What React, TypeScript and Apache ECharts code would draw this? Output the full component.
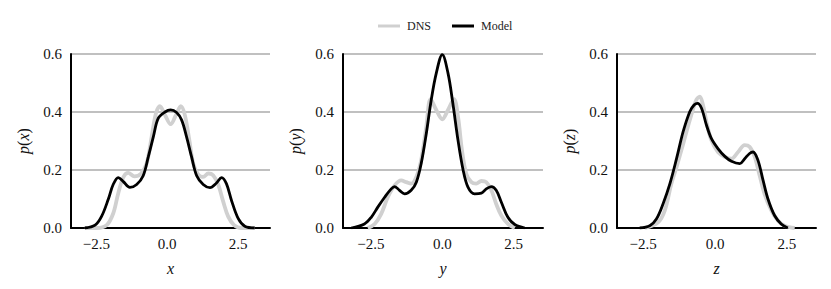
import React, { useEffect, useRef } from 'react';
import * as echarts from 'echarts';

// Panel variables and tick labels
const panelVars = ['x', 'y', 'z'];
const xTickValues = [-2.5, 0, 2.5];
const yMin = 0;
const yMax = 0.6;
const yInterval = 0.2;
const xRanges = [
  [-3.4, 3.63],
  [-3.48, 3.53],
  [-3.41, 3.51],
];

// Panel 1: p(x)
const dnsX1 = [-2.91, -2.49, -2.14, -1.91, -1.73, -1.55, -1.38, -1.16, -0.93, -0.73, -0.55, -0.4, -0.26, -0.08, 0.12, 0.31, 0.48, 0.62, 0.78, 0.92, 1.09, 1.27, 1.45, 1.62, 1.8, 1.98, 2.15, 2.36, 2.62, 3.09];
const dnsY1 = [0, 0, 0.01, 0.05, 0.12, 0.175, 0.19, 0.178, 0.187, 0.222, 0.315, 0.395, 0.42, 0.39, 0.358, 0.39, 0.42, 0.39, 0.303, 0.222, 0.185, 0.176, 0.188, 0.182, 0.15, 0.09, 0.04, 0.01, 0, 0];
const modelX1 = [-2.91, -2.55, -2.32, -2.08, -1.91, -1.73, -1.55, -1.32, -1.08, -0.85, -0.67, -0.49, -0.32, -0.08, 0.12, 0.33, 0.51, 0.68, 0.86, 1.04, 1.27, 1.51, 1.74, 1.92, 2.09, 2.27, 2.51, 2.74, 3.09];
const modelY1 = [0, 0.01, 0.04, 0.1, 0.15, 0.174, 0.16, 0.14, 0.15, 0.18, 0.245, 0.315, 0.378, 0.4, 0.407, 0.398, 0.372, 0.315, 0.245, 0.18, 0.15, 0.139, 0.155, 0.174, 0.153, 0.095, 0.032, 0.006, 0];

// Panel 2: p(y)
const dnsX2 = [-2.61, -2.37, -2.14, -1.91, -1.67, -1.44, -1.26, -1.09, -0.91, -0.74, -0.56, -0.41, -0.21, 0, 0.2, 0.41, 0.55, 0.69, 0.84, 1.02, 1.19, 1.37, 1.54, 1.72, 1.89, 2.07, 2.3, 2.54];
const dnsY2 = [0, 0.014, 0.049, 0.106, 0.147, 0.164, 0.158, 0.153, 0.176, 0.234, 0.349, 0.444, 0.407, 0.375, 0.407, 0.444, 0.384, 0.268, 0.187, 0.158, 0.153, 0.162, 0.158, 0.13, 0.083, 0.043, 0.014, 0];
const modelX2 = [-3.19, -2.73, -2.49, -2.26, -2.02, -1.79, -1.67, -1.5, -1.32, -1.09, -0.91, -0.74, -0.56, -0.39, -0.21, 0, 0.2, 0.37, 0.55, 0.73, 0.9, 1.13, 1.37, 1.54, 1.72, 1.89, 2.07, 2.3, 2.54, 2.89];
const modelY2 = [0, 0.014, 0.037, 0.072, 0.106, 0.135, 0.143, 0.13, 0.118, 0.13, 0.158, 0.222, 0.326, 0.44, 0.534, 0.598, 0.534, 0.43, 0.303, 0.2, 0.141, 0.118, 0.12, 0.135, 0.143, 0.13, 0.089, 0.037, 0.012, 0];

// Panel 3: p(z)
const dnsX3 = [-2.44, -1.98, -1.75, -1.52, -1.34, -1.11, -0.88, -0.65, -0.53, -0.42, -0.3, -0.13, 0.1, 0.34, 0.57, 0.8, 1.03, 1.2, 1.38, 1.55, 1.72, 1.96, 2.19, 2.42, 2.77];
const dnsY3 = [0, 0.02, 0.06, 0.153, 0.21, 0.29, 0.372, 0.442, 0.453, 0.424, 0.366, 0.303, 0.262, 0.245, 0.239, 0.262, 0.286, 0.28, 0.245, 0.181, 0.118, 0.06, 0.025, 0.008, 0];
const modelX3 = [-2.62, -2.27, -2.04, -1.81, -1.57, -1.34, -1.11, -0.88, -0.73, -0.61, -0.47, -0.3, -0.13, 0.1, 0.34, 0.57, 0.86, 1.03, 1.2, 1.32, 1.49, 1.67, 1.84, 2.07, 2.3, 2.53];
const modelY3 = [0, 0.008, 0.031, 0.083, 0.153, 0.239, 0.332, 0.401, 0.424, 0.43, 0.413, 0.355, 0.309, 0.274, 0.247, 0.23, 0.222, 0.239, 0.257, 0.262, 0.234, 0.164, 0.1, 0.043, 0.014, 0];

const dnsXs = [dnsX1, dnsX2, dnsX3];
const dnsYs = [dnsY1, dnsY2, dnsY3];
const modelXs = [modelX1, modelX2, modelX3];
const modelYs = [modelY1, modelY2, modelY3];

const zip = (xs: number[], ys: number[]) => xs.map((x, i) => [x, ys[i]]);

const FONT = "'Liberation Serif', 'Times New Roman', serif";

export default function App() {
  const ref = useRef<HTMLDivElement>(null);
  useEffect(() => {
    if (!ref.current) return;
    const chart = echarts.init(ref.current, undefined, { renderer: 'svg' });
    const lefts = [71, 343, 617];
    const widths = [199, 200, 199];
    const grids = lefts.map((l, i) => ({ left: l, width: widths[i], top: 54, height: 174 }));
    const xAxes = panelVars.map((v, i) => ({
      type: 'value',
      gridIndex: i,
      min: xRanges[i][0],
      max: xRanges[i][1],
      name: v,
      nameLocation: 'middle',
      nameGap: 32,
      nameTextStyle: { fontFamily: FONT, fontSize: 16, fontStyle: 'italic', color: '#111' },
      axisLine: { show: true, onZero: false, lineStyle: { color: '#000', width: 2 } },
      axisTick: { show: false },
      splitLine: { show: false },
      axisLabel: {
        customValues: xTickValues,
        fontFamily: FONT,
        fontSize: 15,
        color: '#111',
        margin: 8,
        formatter: (val: number) => (val < 0 ? '\u2212' + Math.abs(val).toFixed(1) : val.toFixed(1)),
      },
    }));
    const yAxes = panelVars.map((v, i) => ({
      type: 'value',
      gridIndex: i,
      min: yMin,
      max: yMax,
      interval: yInterval,
      name: '{i|p}(' + '{i|' + v + '})',
      nameLocation: 'middle',
      nameGap: 40,
      nameTextStyle: {
        fontFamily: FONT,
        fontSize: 16,
        color: '#111',
        rich: { i: { fontFamily: FONT, fontSize: 16, fontStyle: 'italic', color: '#111' } },
      },
      axisLine: { show: true, onZero: false, lineStyle: { color: '#000', width: 2 } },
      axisTick: { show: false },
      splitLine: { show: true, lineStyle: { color: '#ababab', width: 1.5 } },
      axisLabel: {
        fontFamily: FONT,
        fontSize: 15,
        color: '#111',
        margin: 9,
        formatter: (val: number) => val.toFixed(1),
      },
    }));
    const series: any[] = [];
    panelVars.forEach((_, i) => {
      series.push({
        name: 'DNS',
        type: 'line',
        xAxisIndex: i,
        yAxisIndex: i,
        data: zip(dnsXs[i], dnsYs[i]),
        showSymbol: false,
        smooth: 0.35,
        color: '#d0d0d0',
        lineStyle: { color: '#d0d0d0', width: 3.8 },
        z: 2,
      });
      series.push({
        name: 'Model',
        type: 'line',
        xAxisIndex: i,
        yAxisIndex: i,
        data: zip(modelXs[i], modelYs[i]),
        showSymbol: false,
        smooth: 0.35,
        color: '#000',
        lineStyle: { color: '#000', width: 2.8 },
        z: 3,
      });
    });
    chart.setOption({
      animation: false,
      backgroundColor: '#fff',
      legend: {
        data: ['DNS', 'Model'],
        left: 373,
        top: 15,
        icon: 'rect',
        itemWidth: 22,
        itemHeight: 3,
        itemGap: 21,
        textStyle: { fontFamily: FONT, fontSize: 12, color: '#222', padding: [0, 0, 0, 2] },
      },
      grid: grids,
      xAxis: xAxes,
      yAxis: yAxes,
      series,
    });
    return () => chart.dispose();
  }, []);
  return (
    <div
      ref={ref}
      style={{ position: 'fixed', left: 0, top: 0, width: 831, height: 289, background: '#fff' }}
    />
  );
}
